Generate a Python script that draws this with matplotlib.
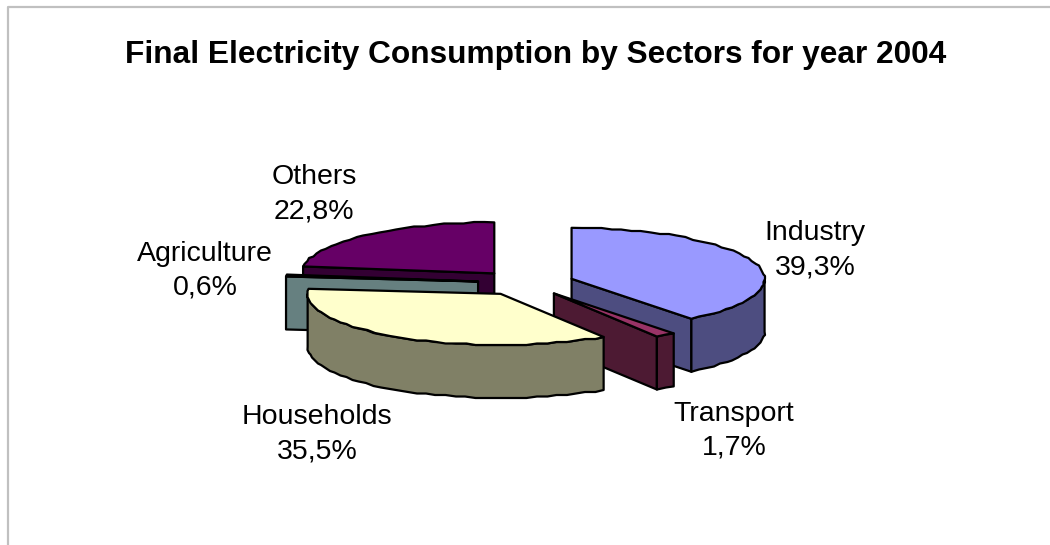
import numpy as np
import matplotlib
matplotlib.use("Agg")
import matplotlib.pyplot as plt
from matplotlib.patches import Polygon

plt.rcParams["font.family"] = ["Liberation Sans", "DejaVu Sans"]

sectors = ["Industry", "Transport", "Households", "Agriculture", "Others"]
shares = [39.3, 1.7, 35.5, 0.6, 22.8]
top_colors = ["#9999FF", "#993366", "#FFFFCC", "#CCFFFF", "#660066"]
side_colors = ["#4D4D80", "#4D1A33", "#808066", "#668080", "#330033"]

# pie projection, in pixels
CX, CY = 526, 283
RX, RY = 193, 51
DEPTH = 53
EXPLODE = 0.25
SNAP = 1.5

label_pos = [(815, 250), (734, 431), (317, 434), (205, 271), (314, 194)]
draw_order = [4, 3, 0, 1, 2]


def rim(cx, cy, a1, a2, step=3):
    # rim points are snapped to a coarse grid, the ends stay exact
    n = max(2, int((a2 - a1) / step) + 1)
    t = np.radians(np.linspace(a1, a2, n))
    pts = np.column_stack([cx + RX * np.sin(t), cy - RY * np.cos(t)])
    pts[1:-1] = np.round(pts[1:-1] / SNAP) * SNAP
    return pts


def rim_point(cx, cy, a):
    t = np.radians(a)
    return np.array([cx + RX * np.sin(t), cy - RY * np.cos(t)])


def add_poly(ax, pts, color):
    ax.add_patch(Polygon(pts, closed=True, facecolor=color, edgecolor="black",
                         linewidth=1.6, joinstyle="round"))


def draw_slice(ax, a1, a2, top, side):
    mid = np.radians((a1 + a2) / 2)
    cx = CX + EXPLODE * RX * np.sin(mid)
    cy = CY - EXPLODE * RY * np.cos(mid)
    drop = np.array([0, DEPTH])

    # cut faces, only the ones turned towards the viewer
    for a, visible in ((a1, np.sin(np.radians(a1)) < 0),
                       (a2, np.sin(np.radians(a2)) > 0)):
        if visible:
            p = rim_point(cx, cy, a)
            c = np.array([cx, cy])
            add_poly(ax, [c, p, p + drop, c + drop], side)

    # outer wall on the front half of the ellipse
    lo, hi = max(a1, 90), min(a2, 270)
    if lo < hi:
        edge = rim(cx, cy, lo, hi)
        add_poly(ax, np.vstack([edge, edge[::-1] + drop]), side)

    add_poly(ax, np.vstack([[cx, cy], rim(cx, cy, a1, a2)]), top)


fig = plt.figure(figsize=(10.5, 5.45), dpi=100)
ax = fig.add_axes([0, 0, 1, 1])
ax.set_xlim(0, 1050)
ax.set_ylim(545, 0)
ax.axis("off")

# chart area border, cut by the edges of the figure
ax.plot([8, 8, 1050], [545, 7, 7], color="#C0C0C0", linewidth=1.6)

edges = np.concatenate([[0], np.cumsum(shares)]) / sum(shares) * 360
for i in draw_order:
    draw_slice(ax, edges[i], edges[i + 1], top_colors[i], side_colors[i])

for name, val, (x, y) in zip(sectors, shares, label_pos):
    txt = f"{val:.1f}".replace(".", ",")
    ax.text(x, y, f"{name}\n{txt}%", ha="center", va="center",
            fontsize=20.5, linespacing=1.4, color="black")

ax.text(536, 55, "Final Electricity Consumption by Sectors for year 2004",
        ha="center", va="center", fontsize=22.8, fontweight="bold", color="black")

fig.savefig("out.png", dpi=100)
